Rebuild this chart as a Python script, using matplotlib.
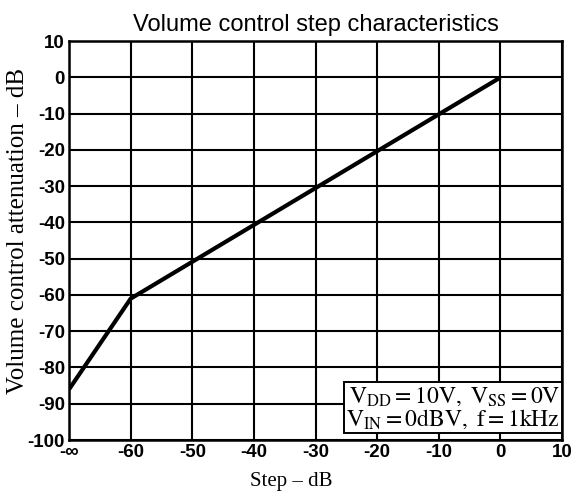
import matplotlib
matplotlib.use("Agg")
import matplotlib.pyplot as plt

# x = -70 stands for the "-inf" step
step_db = [-70, -60, 0]
atten_db = [-86, -61, 0]

x_ticks = [-70, -60, -50, -40, -30, -20, -10, 0, 10]
x_labels = ["-∞", "-60", "-50", "-40", "-30", "-20", "-10", "0", "10"]
y_ticks = list(range(-100, 11, 10))

plt.rcParams["mathtext.fontset"] = "stix"
plt.rcParams["axes.unicode_minus"] = False

fig = plt.figure(figsize=(5.71, 4.93), dpi=100)
ax = fig.add_axes([0.121, 0.1075, 0.8634, 0.809])

ax.plot(step_db, atten_db, color="black", lw=3.0, solid_capstyle="butt", zorder=3)

ax.set_xlim(-70, 10)
ax.set_ylim(-100, 10)
ax.set_xticks(x_ticks)
ax.set_xticklabels(x_labels)
ax.set_yticks(y_ticks)
ax.tick_params(length=0, pad=3, labelsize=13.5)
for lab in ax.get_xticklabels() + ax.get_yticklabels():
    lab.set_fontweight("bold")
    lab.set_family("Liberation Sans")
ax.grid(True, color="black", lw=1.5)
for s in ax.spines.values():
    s.set_linewidth(1.8)

ax.set_title("Volume control step characteristics", fontsize=17,
             family="Liberation Sans", pad=7)
ax.set_xlabel("Step – dB", family="Liberation Serif", fontsize=15, labelpad=4)
ax.xaxis.set_label_coords(0.45, -0.08)
ax.set_ylabel("Volume control attenuation – dB", family="Liberation Serif",
              fontsize=18, labelpad=2)
ax.yaxis.set_label_coords(-0.082, 0.524)

ax.text(9.7, -97.5,
        r"$\mathrm{V_{DD} = 10V,\ V_{SS} = 0V}$" "\n"
        r"$\mathrm{V_{IN} = 0dBV,\ f = 1kHz}$",
        ha="right", va="bottom", fontsize=17, linespacing=0.95,
        bbox=dict(boxstyle="square,pad=0.08", fc="white", ec="black", lw=1.4),
        zorder=4)

fig.savefig("out.png", dpi=100)
